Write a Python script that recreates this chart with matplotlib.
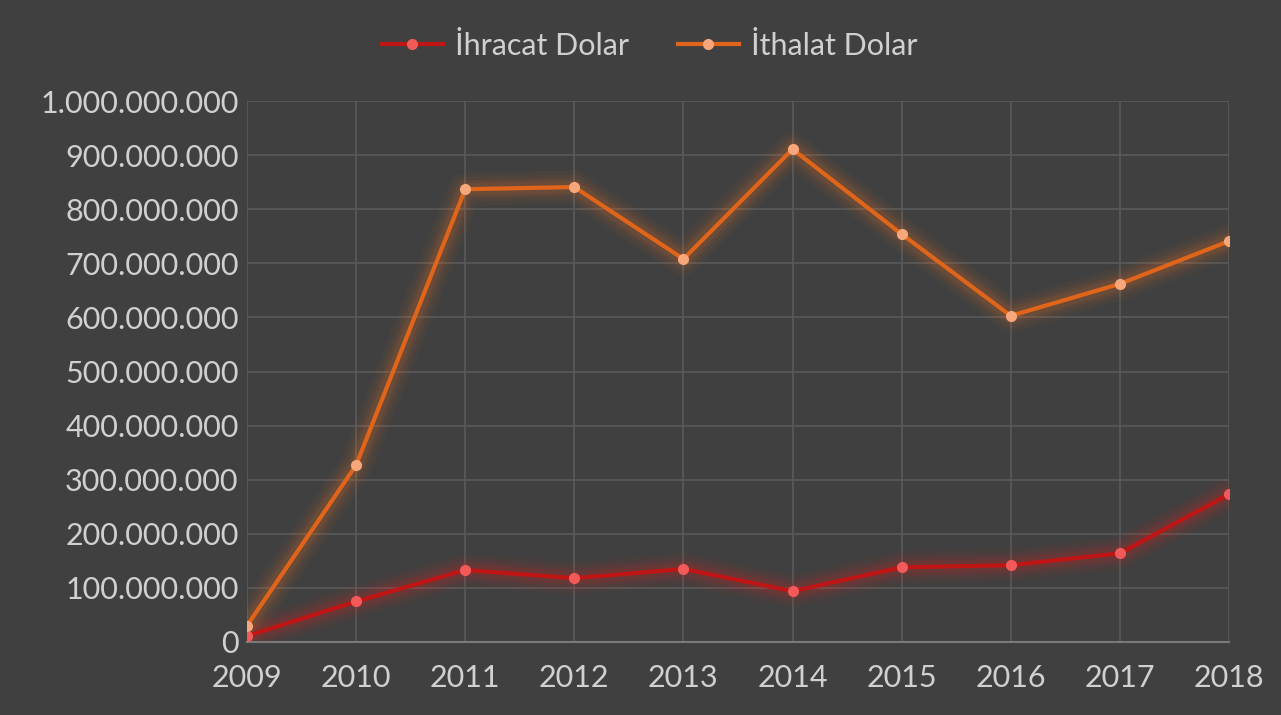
import matplotlib.pyplot as plt
from matplotlib.ticker import FuncFormatter, MultipleLocator

years = [2009, 2010, 2011, 2012, 2013, 2014, 2015, 2016, 2017, 2018]
ihracat = [11e6, 75e6, 133e6, 118e6, 135e6, 94e6, 138e6, 142e6, 164e6, 273e6]
ithalat = [30e6, 327e6, 837e6, 841e6, 708e6, 911e6, 754e6, 603e6, 662e6, 741e6]

BG = '#404040'
TXT = '#d0d0d0'

plt.rcParams['font.family'] = ['Lato', 'DejaVu Sans']

fig = plt.figure(figsize=(12.81, 7.15), dpi=100, facecolor=BG)
ax = fig.add_axes([0.1928, 0.1021, 0.7666, 0.7566], facecolor=BG)


def glow_line(x, y, line_c, mark_c, glow_c, label):
    # soft glow under the line
    for lw, a in [(24, 0.04), (18, 0.05), (13, 0.07), (9, 0.09)]:
        ax.plot(x, y, color=glow_c, lw=lw, alpha=a, solid_capstyle='round', zorder=2)
    ax.plot(x, y, color=line_c, lw=3, zorder=3, label=label,
            marker='o', markersize=7, markerfacecolor=mark_c, markeredgecolor=mark_c)


glow_line(years, ihracat, '#bf1515', '#f25a5a', '#ff2020', 'İhracat Dolar')
glow_line(years, ithalat, '#e0651a', '#f7a77c', '#ff7a20', 'İthalat Dolar')

ax.set_xlim(2009, 2018)
ax.set_ylim(0, 1e9)
ax.set_xticks(years)
ax.yaxis.set_major_locator(MultipleLocator(1e8))
ax.yaxis.set_major_formatter(FuncFormatter(lambda v, p: f'{int(v):,}'.replace(',', '.')))
ax.tick_params(colors=TXT, labelsize=22, length=0, pad=6)
ax.tick_params(axis='x', pad=16)

ax.grid(True, color='#5a5a5a', lw=1.2)
ax.set_axisbelow(True)
for s in ['top', 'left', 'right']:
    ax.spines[s].set_visible(False)
ax.spines['bottom'].set_color('#7a7a7a')
ax.spines['bottom'].set_linewidth(1.5)

leg = ax.legend(loc='lower center', bbox_to_anchor=(0.41, 1.025), ncol=2, frameon=False,
                fontsize=22, handlelength=2.0, columnspacing=1.6, handletextpad=0.4)
for t in leg.get_texts():
    t.set_color(TXT)

fig.savefig('out.png', dpi=100, facecolor=BG)
